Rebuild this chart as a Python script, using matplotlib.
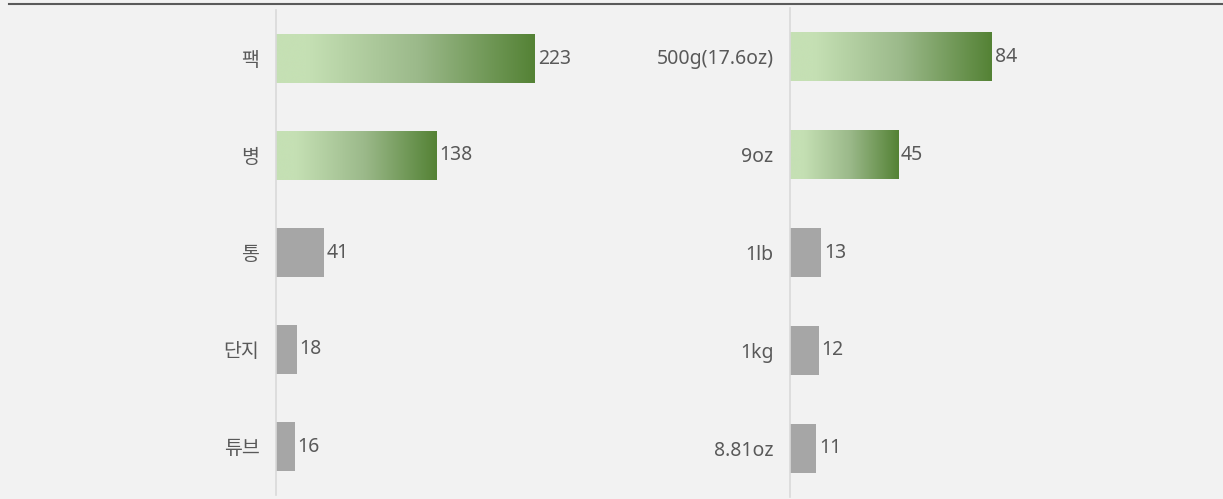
import matplotlib
matplotlib.use("Agg")
import matplotlib.pyplot as plt
import numpy as np
from matplotlib.colors import LinearSegmentedColormap
from matplotlib.lines import Line2D

plt.rcParams['font.family'] = ['Noto Sans', 'Noto Sans CJK KR', 'DejaVu Sans']

# Data
left_categories = ["팩", "병", "통", "단지", "튜브"]
left_values = [223, 138, 41, 18, 16]
right_categories = ["500g(17.6oz)", "9oz", "1lb", "1kg", "8.81oz"]
right_values = [84, 45, 13, 12, 11]
highlight_count = 2

W, H = 1223, 499
DPI = 100
fig = plt.figure(figsize=(W / DPI, H / DPI), dpi=DPI)
fig.patch.set_facecolor("#f2f2f2")

GRAY = "#a6a6a6"
TXT = "#595959"
FS = 14
cmap = LinearSegmentedColormap.from_list(
    "g", [(0.0, "#c5e0b4"), (0.12, "#c5e0b4"), (0.55, "#9bb98a"), (1.0, "#548235")])


def px_axes(x0, y0, x1, y1):
    return fig.add_axes([x0 / W, 1 - y1 / H, (x1 - x0) / W, (y1 - y0) / H])


def draw_panel(ax, cats, vals, px_per_unit, width_px):
    ax.set_facecolor("none")
    n = len(cats)
    ypos = np.arange(n)
    bars = ax.barh(ypos, vals, height=0.5, color=GRAY, zorder=2)
    grad = np.linspace(0, 1, 256).reshape(1, -1)
    for i, b in enumerate(bars):
        if i < highlight_count:
            b.set_facecolor("none")
            x0, y0 = b.get_x(), b.get_y()
            w, h = b.get_width(), b.get_height()
            ax.imshow(grad, cmap=cmap, aspect="auto", extent=(x0, x0 + w, y0 + h, y0),
                      zorder=2, interpolation="bicubic")
        ax.annotate(str(vals[i]), xy=(b.get_width(), ypos[i]), xytext=(2, 0),
                    textcoords="offset points", va="center", ha="left",
                    fontsize=FS, color=TXT)
    ax.set_ylim(n - 0.5, -0.5)
    ax.set_xlim(0, width_px / px_per_unit)
    ax.set_yticks(ypos)
    ax.set_yticklabels(cats, fontsize=FS, color=TXT)
    ax.tick_params(axis="y", length=0, pad=12)
    ax.set_xticks([])
    for s in ["top", "right", "bottom"]:
        ax.spines[s].set_visible(False)
    ax.spines["left"].set_color("#d9d9d9")
    ax.spines["left"].set_linewidth(1.2)


axL = px_axes(276, 10, 640, 495)
draw_panel(axL, left_categories, left_values, (535 - 276) / 223, 640 - 276)

axR = px_axes(790, 8, 1200, 497)
draw_panel(axR, right_categories, right_values, (992 - 790) / 84, 1200 - 790)

fig.add_artist(Line2D([9 / W, 1.0], [1 - 4 / H, 1 - 4 / H], color="#5a5a5a", linewidth=1.5))

fig.savefig("out.png", dpi=DPI, facecolor=fig.get_facecolor())
